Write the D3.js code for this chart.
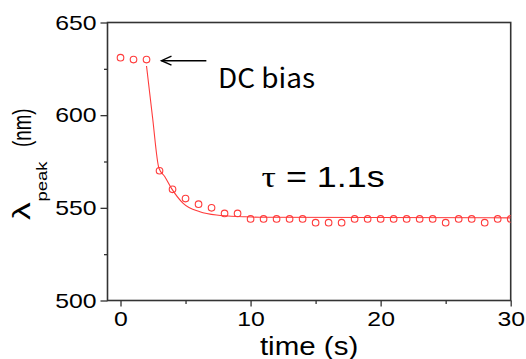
<!DOCTYPE html>
<html>
<head>
<meta charset="utf-8">
<script src="https://cdn.jsdelivr.net/npm/d3@7/dist/d3.min.js"></script>
<style>
    body { margin: 0; background: #fff; }
    svg { display: block; }
</style>
</head>
<body>
<div id="chart"></div>
<script>
// measured peak wavelength after bias step
const time = [0, 1, 2, 3, 4, 5, 6, 7, 8, 9, 10, 11, 12, 13, 14, 15, 16, 17, 18, 19, 20, 21, 22, 23, 24, 25, 26, 27, 28, 29, 30];
const peakWavelength = [631, 630, 630, 570, 560, 555, 552, 550, 547, 547, 544, 544, 544, 544, 544, 542, 542, 542, 544, 544, 544, 544, 544, 544, 544, 542, 544, 544, 542, 544, 544];

// fitted decay curve
const fitTime = [2, 2.46, 2.95, 3.41, 3.92, 4.82, 6.1, 7.38, 9.43, 10.7, 30];
const fitValue = [626.5, 599, 571.5, 566.8, 560.5, 552.4, 547.9, 546.1, 545.2, 544.9, 544.6];

const xTicks = [0, 10, 20, 30];
const xMinorTicks = [5, 15, 25];
const yTicks = [500, 550, 600, 650];
const yMinorTicks = [525, 575, 625];

const width = 526, height = 359;
const margin = {top: 22.5, right: 15.3, bottom: 58.5, left: 107.5};
const red = "#ff3b3b";
const axisColor = "#333";
const stretch = 1.18; // text in the original is a bit wide

const svg = d3.select("#chart").append("svg")
    .attr("width", width)
    .attr("height", height);

const x = d3.scaleLinear().domain([-1, 30]).range([margin.left, width - margin.right]);
const y = d3.scaleLinear().domain([500, 650]).range([height - margin.bottom, margin.top]);

function widen(sel, k) {
    sel.each(function () {
        let w = this.getComputedTextLength();
        d3.select(this).attr("textLength", w * k).attr("lengthAdjust", "spacingAndGlyphs");
    });
}

svg.append("clipPath").attr("id", "plot-clip")
    .append("rect")
    .attr("x", x.range()[0]).attr("y", y.range()[1])
    .attr("width", x.range()[1] - x.range()[0])
    .attr("height", y.range()[0] - y.range()[1]);

// axes
svg.append("g")
    .attr("transform", `translate(0,${y(500)})`)
    .call(d3.axisBottom(x).tickValues(xTicks).tickSize(6).tickPadding(5).tickSizeOuter(0));
svg.append("g")
    .attr("transform", `translate(0,${y(500)})`)
    .call(d3.axisBottom(x).tickValues(xMinorTicks).tickSize(3.5).tickFormat(""));

svg.append("g")
    .attr("transform", `translate(${x(-1)},0)`)
    .call(d3.axisLeft(y).tickValues(yTicks).tickSize(7).tickPadding(4).tickSizeOuter(0));
svg.append("g")
    .attr("transform", `translate(${x(-1)},0)`)
    .call(d3.axisLeft(y).tickValues(yMinorTicks).tickSize(3.5).tickFormat(""));

svg.selectAll(".domain").remove();
svg.selectAll(".tick line").attr("stroke", axisColor).attr("stroke-width", 1.3);
svg.selectAll(".tick text")
    .attr("fill", "#000")
    .style("font-family", "'Liberation Sans', Arial, sans-serif")
    .style("font-size", "21px");
widen(svg.selectAll(".tick text"), stretch);

// frame
svg.append("rect")
    .attr("x", x(-1)).attr("y", y(650))
    .attr("width", x(30) - x(-1))
    .attr("height", y(500) - y(650))
    .attr("fill", "none")
    .attr("stroke", axisColor)
    .attr("stroke-width", 1.6);

// fit line
let line = d3.line()
    .x((d, i) => x(fitTime[i]))
    .y(d => y(d))
    .curve(d3.curveMonotoneX);

svg.append("path")
    .datum(fitValue)
    .attr("clip-path", "url(#plot-clip)")
    .attr("fill", "none")
    .attr("stroke", red)
    .attr("stroke-width", 1.1)
    .attr("d", line);

// data points
svg.append("g")
    .attr("clip-path", "url(#plot-clip)")
    .selectAll("circle")
    .data(peakWavelength)
    .enter().append("circle")
    .attr("cx", (d, i) => x(time[i]))
    .attr("cy", d => y(d))
    .attr("r", 3.3)
    .attr("fill", "none")
    .attr("stroke", red)
    .attr("stroke-width", 1.1);

// annotation arrow
let arrowY = y(629.4);
svg.append("line")
    .attr("x1", x(6.6)).attr("y1", arrowY)
    .attr("x2", x(3.15)).attr("y2", arrowY)
    .attr("stroke", "#000").attr("stroke-width", 1.4);
svg.append("path")
    .attr("d", `M${x(3.15) + 10},${arrowY - 4.5}L${x(3.15)},${arrowY}L${x(3.15) + 10},${arrowY + 4.5}`)
    .attr("fill", "none")
    .attr("stroke", "#000").attr("stroke-width", 1.4);

svg.append("text")
    .attr("x", x(7.5)).attr("y", y(614.6))
    .style("font-family", "'Noto Sans CJK KR', 'Noto Sans', sans-serif")
    .style("font-size", "27px")
    .attr("textLength", 97).attr("lengthAdjust", "spacingAndGlyphs")
    .text("DC bias");

let tau = svg.append("text")
    .attr("x", x(10.85)).attr("y", y(561.4))
    .style("font-family", "'Liberation Sans', Arial, sans-serif")
    .style("font-size", "30px");
tau.append("tspan").style("font-family", "'Liberation Serif', serif").text("τ");
tau.append("tspan").text(" = 1.1s");
tau.attr("textLength", 123).attr("lengthAdjust", "spacingAndGlyphs");

// axis titles
let xTitle = svg.append("text")
    .attr("x", (x(-1) + x(30)) / 2).attr("y", 355)
    .attr("text-anchor", "middle")
    .style("font-family", "'Liberation Sans', Arial, sans-serif")
    .style("font-size", "25px")
    .text("time (s)");
widen(xTitle, stretch);

let yTitle = svg.append("g")
    .attr("transform", "rotate(-90)")
    .style("font-family", "'Liberation Sans', Arial, sans-serif");
yTitle.append("text")
    .attr("x", -220).attr("y", 30)
    .style("font-size", "23px")
    .attr("textLength", 17.7).attr("lengthAdjust", "spacingAndGlyphs")
    .text("λ");
yTitle.append("text")
    .attr("x", -201.5).attr("y", 46.5)
    .style("font-size", "15px")
    .attr("textLength", 40).attr("lengthAdjust", "spacingAndGlyphs")
    .text("peak");
yTitle.append("text")
    .attr("x", -147).attr("y", 31)
    .style("font-size", "26px")
    .attr("textLength", 38.5).attr("lengthAdjust", "spacingAndGlyphs")
    .text("(nm)");
</script>
</body>
</html>
